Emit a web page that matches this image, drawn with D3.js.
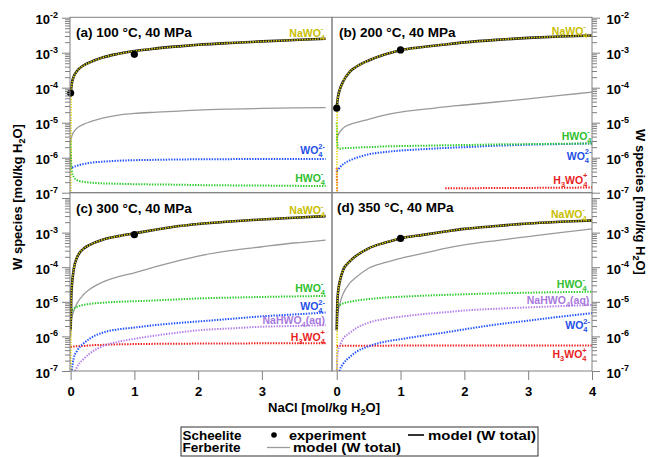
<!DOCTYPE html>
<html><head><meta charset="utf-8">
<script src="https://cdn.jsdelivr.net/npm/d3@7"></script>
<style>
body{margin:0;background:#fff}
text{font-family:"Liberation Sans",Arial,Helvetica,sans-serif;}
</style>
</head><body>
<svg id="chart" width="656" height="457"></svg>
<script>
// ---------------- DATA ----------------
const nacl = [0, 0.01, 0.02, 0.05, 0.1, 0.2, 0.3, 0.5, 0.75, 1, 1.35, 1.7, 2, 2.5, 3, 3.5, 4];

// (a) 100 °C
const totalA = [7e-5, 1.0e-4, 1.35e-4, 2.1e-4, 3.0e-4, 4.3e-4, 5.3e-4, 7.3e-4, 9.3e-4, 1.12e-3, 1.33e-3, 1.52e-3, 1.68e-3, 1.9e-3, 2.1e-3, 2.3e-3, 2.5e-3];
const nawo4A = [1e-8, 9.5e-5, 1.3e-4, 2.05e-4, 2.95e-4, 4.25e-4, 5.25e-4, 7.25e-4, 9.25e-4, 1.115e-3, 1.325e-3, 1.515e-3, 1.675e-3, 1.895e-3, 2.095e-3, 2.295e-3, 2.495e-3];
const ferbA = [3e-6, 3.6e-6, 4.2e-6, 5.5e-6, 7e-6, 9e-6, 1.05e-5, 1.35e-5, 1.65e-5, 1.85e-5, 2.0e-5, 2.15e-5, 2.3e-5, 2.45e-5, 2.55e-5, 2.65e-5, 2.7e-5];
const wo4A = [1.2e-6, 5.2e-7, 5.2e-7, 5.5e-7, 5.9e-7, 6.6e-7, 7.1e-7, 7.7e-7, 8.2e-7, 8.5e-7, 8.7e-7, 8.9e-7, 9e-7, 9.1e-7, 9.2e-7, 9.2e-7, 9.2e-7];
const hwo4A = [3e-6, 6e-7, 4e-7, 2.8e-7, 2.3e-7, 2.05e-7, 1.95e-7, 1.85e-7, 1.8e-7, 1.75e-7, 1.72e-7, 1.69e-7, 1.65e-7, 1.62e-7, 1.6e-7, 1.57e-7, 1.55e-7];
const expXA = [0, 1], expYA = [7e-5, 9e-4];

// (b) 200 °C
const totalB = [2.6e-5, 4e-5, 5.5e-5, 9e-5, 1.5e-4, 2.8e-4, 3.9e-4, 6e-4, 8.9e-4, 1.18e-3, 1.45e-3, 1.72e-3, 1.97e-3, 2.33e-3, 2.65e-3, 2.9e-3, 3.1e-3];
const nawo4B = [1e-8, 3.9e-5, 5.4e-5, 8.9e-5, 1.49e-4, 2.79e-4, 3.89e-4, 5.99e-4, 8.89e-4, 1.178e-3, 1.448e-3, 1.718e-3, 1.968e-3, 2.328e-3, 2.648e-3, 2.898e-3, 3.098e-3];
const ferbB = [3e-6, 3.8e-6, 4.3e-6, 5.5e-6, 7e-6, 8.8e-6, 1.0e-5, 1.25e-5, 1.65e-5, 2.0e-5, 2.4e-5, 2.85e-5, 3.2e-5, 3.9e-5, 4.8e-5, 6e-5, 7.5e-5];
const hwo4B = [1e-5, 2.5e-6, 1.9e-6, 1.8e-6, 1.85e-6, 1.9e-6, 1.95e-6, 2.0e-6, 2.1e-6, 2.15e-6, 2.2e-6, 2.27e-6, 2.3e-6, 2.4e-6, 2.45e-6, 2.5e-6, 2.55e-6];
const wo4B = [4.2e-7, 4.3e-7, 4.5e-7, 5.3e-7, 6.5e-7, 8.3e-7, 9.8e-7, 1.25e-6, 1.45e-6, 1.6e-6, 1.75e-6, 1.9e-6, 2.0e-6, 2.2e-6, 2.35e-6, 2.45e-6, 2.55e-6];
const h3wo4B = [5e-7, 4e-8, null, null, null, null, null, null, null, null, null, 1.33e-7, 1.34e-7, 1.36e-7, 1.37e-7, 1.39e-7, 1.4e-7];
const expXB = [0, 1], expYB = [2.6e-5, 1.2e-3];

// (c) 300 °C
const totalC = [1.5e-6, 1.5e-5, 3e-5, 9e-5, 1.9e-4, 3.4e-4, 4.4e-4, 6.2e-4, 7.9e-4, 9.5e-4, 1.23e-3, 1.55e-3, 1.78e-3, 2.1e-3, 2.4e-3, 2.7e-3, 3.0e-3];
const nawo4C = [1e-8, 1.4e-5, 2.9e-5, 8.9e-5, 1.89e-4, 3.39e-4, 4.39e-4, 6.18e-4, 7.88e-4, 9.48e-4, 1.228e-3, 1.548e-3, 1.778e-3, 2.098e-3, 2.398e-3, 2.698e-3, 2.998e-3];
const ferbC = [1e-6, 2.5e-6, 3.5e-6, 5.5e-6, 9e-6, 1.6e-5, 2.3e-5, 3.7e-5, 5.3e-5, 6.9e-5, 1.05e-4, 1.55e-4, 2.1e-4, 3.0e-4, 3.9e-4, 5.0e-4, 6.1e-4];
const hwo4C = [4e-6, 5e-6, 5.5e-6, 6.3e-6, 7.2e-6, 8.1e-6, 8.7e-6, 9.4e-6, 1.0e-5, 1.04e-5, 1.1e-5, 1.18e-5, 1.25e-5, 1.32e-5, 1.38e-5, 1.43e-5, 1.48e-5];
const wo4C = [3e-8, 7e-8, 1.1e-7, 2.4e-7, 3.8e-7, 6.2e-7, 8.6e-7, 1.28e-6, 1.6e-6, 1.8e-6, 2.15e-6, 2.45e-6, 2.7e-6, 3.2e-6, 3.8e-6, 4.3e-6, 4.9e-6];
const nahwo4C = [1e-8, 2e-8, 4e-8, 8e-8, 1.3e-7, 2.2e-7, 3.2e-7, 5.2e-7, 7e-7, 8.5e-7, 1.07e-6, 1.3e-6, 1.5e-6, 1.7e-6, 1.9e-6, 2.0e-6, 2.1e-6];
const h3wo4C = [4.8e-7, 4.9e-7, 5e-7, 5.1e-7, 5.2e-7, 5.3e-7, 5.5e-7, 5.7e-7, 5.9e-7, 6e-7, 6.1e-7, 6.15e-7, 6.2e-7, 6.25e-7, 6.3e-7, 6.3e-7, 6.3e-7];
const expXC = [1], expYC = [8.7e-4];

// (d) 350 °C
const totalD = [1.5e-6, 1e-5, 1.8e-5, 4e-5, 8.3e-5, 1.45e-4, 2.1e-4, 3.5e-4, 5.1e-4, 6.8e-4, 8.6e-4, 1.07e-3, 1.28e-3, 1.55e-3, 1.83e-3, 2.05e-3, 2.25e-3];
const nawo4D = [1e-8, 9.5e-6, 1.75e-5, 3.95e-5, 8.25e-5, 1.445e-4, 2.095e-4, 3.49e-4, 5.09e-4, 6.79e-4, 8.59e-4, 1.069e-3, 1.279e-3, 1.549e-3, 1.829e-3, 2.049e-3, 2.249e-3];
const ferbD = [1.5e-6, 3.7e-6, 5e-6, 9e-6, 1.7e-5, 3.4e-5, 5e-5, 9.3e-5, 1.35e-4, 1.8e-4, 2.5e-4, 3.5e-4, 4.4e-4, 5.9e-4, 7.7e-4, 1.0e-3, 1.28e-3];
const hwo4D = [5e-6, 6.5e-6, 7.2e-6, 8e-6, 9e-6, 1.0e-5, 1.08e-5, 1.2e-5, 1.32e-5, 1.4e-5, 1.5e-5, 1.58e-5, 1.65e-5, 1.75e-5, 1.83e-5, 1.9e-5, 1.95e-5];
const nahwo4D = [5e-8, 3e-7, 4e-7, 5.5e-7, 8.5e-7, 1.25e-6, 1.7e-6, 2.5e-6, 3.2e-6, 3.7e-6, 4.4e-6, 5e-6, 5.6e-6, 6.3e-6, 6.9e-6, 7.5e-6, 8.1e-6];
const wo4D = [2e-8, 4e-8, 6e-8, 1.07e-7, 1.6e-7, 2.5e-7, 3.5e-7, 5.2e-7, 7e-7, 8.3e-7, 1.05e-6, 1.3e-6, 1.6e-6, 2.2e-6, 2.85e-6, 3.7e-6, 4.7e-6];
const h3wo4D = [5.2e-7, 5.3e-7, 5.3e-7, 5.35e-7, 5.35e-7, 5.4e-7, 5.4e-7, 5.4e-7, 5.4e-7, 5.45e-7, 5.45e-7, 5.45e-7, 5.5e-7, 5.5e-7, 5.5e-7, 5.5e-7, 5.5e-7];
const expXD = [1], expYD = [6.8e-4];

const titles = ["(a) 100 °C, 40 MPa", "(b) 200 °C, 40 MPa", "(c) 300 °C, 40 MPa", "(d) 350 °C, 40 MPa"];
const yMajor = [1e-7, 1e-6, 1e-5, 1e-4, 1e-3, 1e-2];
const xTicksLeft = [0, 1, 2, 3];
const xTicksRight = [0, 1, 2, 3, 4];

// ---------------- STYLE ----------------
const C = {
  nawo4: "#e3d600", nawo4T: "#c8bd00",
  hwo4: "#2ecb2e", hwo4T: "#2fbf2f",
  wo4: "#1f50ff", wo4T: "#1f4fe6",
  nahwo4: "#b47ee8", nahwo4T: "#a878dd",
  h3wo4: "#f01c1c", h3wo4T: "#e81e1e",
  ferb: "#9a9a9a", total: "#1e1e1e", frame: "#808080"
};

const svg = d3.select("#chart");
svg.append("rect").attr("width", 656).attr("height", 457).attr("fill", "#fff");

const LBL = {
  nawo4: [["NaWO", "n"], ["4", "sub"], ["-", "sup"]],
  hwo4: [["HWO", "n"], ["4", "sub"], ["-", "sup"]],
  wo4: [["WO", "n"], ["4", "sub"], ["2-", "sup"]],
  h3wo4: [["H", "n"], ["3", "sub"], ["WO", "n"], ["4", "sub"], ["+", "sup"]],
  nahwo4: [["NaHWO", "n"], ["4", "sub"], ["(aq)", "n2"]]
};

const panels = [
  { x0: 70, x1: 332, fTop: 17.3, yBot: 192.7, yTopDec: 17.7, side: "left", xdom: [-0.01, 4.1], title: titles[0], tx: 76, ty: 36.8,
    total: totalA, nawo4: nawo4A, ferb: ferbA, sp: [["wo4", wo4A], ["hwo4", hwo4A]], ex: expXA, ey: expYA,
    labels: [["nawo4", 325, 36.8], ["wo4", 325, 154], ["hwo4", 325, 181.7]], yLabels: [-2, -3, -4, -5, -6, -7], xt: null },
  { x0: 332, x1: 592, fTop: 17.3, yBot: 192.7, yTopDec: 17.7, side: "right", xdom: [-0.074, 4.0], title: titles[1], tx: 339, ty: 36.8,
    total: totalB, nawo4: nawo4B, ferb: ferbB, sp: [["h3wo4", h3wo4B], ["wo4", wo4B], ["hwo4", hwo4B]], ex: expXB, ey: expYB,
    labels: [["nawo4", 587.5, 34.5], ["hwo4", 591.5, 139.5], ["wo4", 591.5, 159.5], ["h3wo4", 587.5, 183.5]], yLabels: [-2, -3, -4, -5, -6, -7], xt: null },
  { x0: 70, x1: 332, fTop: 192.7, yBot: 371, yTopDec: 198, side: "left", xdom: [-0.01, 4.1], title: titles[2], tx: 76, ty: 213,
    total: totalC, nawo4: nawo4C, ferb: ferbC, sp: [["h3wo4", h3wo4C], ["nahwo4", nahwo4C], ["wo4", wo4C], ["hwo4", hwo4C]], ex: expXC, ey: expYC,
    labels: [["nawo4", 325, 214.3], ["hwo4", 325, 291.7], ["wo4", 325, 310.3], ["nahwo4", 325, 324.3], ["h3wo4", 325, 340.5]], yLabels: [-3, -4, -5, -6, -7], xt: xTicksLeft },
  { x0: 332, x1: 592, fTop: 192.7, yBot: 371, yTopDec: 198, side: "right", xdom: [-0.074, 4.0], title: titles[3], tx: 337, ty: 212,
    total: totalD, nawo4: nawo4D, ferb: ferbD, sp: [["h3wo4", h3wo4D], ["wo4", wo4D], ["nahwo4", nahwo4D], ["hwo4", hwo4D]], ex: expXD, ey: expYD,
    labels: [["nawo4", 586.7, 217.7], ["hwo4", 586.7, 287.7], ["nahwo4", 589.3, 304.3], ["wo4", 590, 329.3], ["h3wo4", 586.7, 358.3]], yLabels: [-3, -4, -5, -6, -7], xt: xTicksRight }
];

const minors = [];
for (let k = -7; k <= -3; k++) for (let m = 2; m <= 9; m++) minors.push(m * Math.pow(10, k));

function speciesLabel(g, key, xEnd, yBase) {
  const t = g.append("text").attr("x", xEnd).attr("y", yBase).attr("text-anchor", "end")
    .attr("font-weight", "bold").attr("font-size", 10.5).attr("fill", C[key + "T"]);
  let prev = null;
  LBL[key].forEach(([s, kind]) => {
    const ts = t.append("tspan").text(s);
    if (kind === "sub") { ts.attr("font-size", 7.5).attr("dy", prev === "sub" ? 0 : 3); }
    else if (kind === "sup") { ts.attr("font-size", 7.5).attr("dx", -4.2).attr("dy", -8.5); }
    else { ts.attr("font-size", 10.5).attr("dy", prev === "sub" ? -3 : 0); }
    prev = kind;
  });
}

panels.forEach((p, i) => {
  const x = d3.scaleLinear().domain(p.xdom).range([p.x0, p.x1]);
  const y = d3.scaleLog().domain([1e-7, 1e-2]).range([p.yBot, p.yTopDec]);
  const g = svg.append("g");
  const cid = "clip" + i;
  svg.append("clipPath").attr("id", cid).append("rect")
    .attr("x", p.x0).attr("y", p.fTop).attr("width", p.x1 - p.x0).attr("height", p.yBot - p.fTop);
  const plot = g.append("g").attr("clip-path", `url(#${cid})`);

  const line = d3.line()
    .defined(d => d[1] != null)
    .x(d => x(d[0])).y(d => y(d[1]))
    .curve(d3.curveMonotoneX);
  const pts = arr => nacl.map((v, j) => [v, arr[j]]);

  // ferberite total
  plot.append("path").attr("d", line(pts(p.ferb))).attr("fill", "none")
    .attr("stroke", C.ferb).attr("stroke-width", 1.3);
  // species dotted
  p.sp.forEach(([key, arr]) => {
    plot.append("path").attr("d", line(pts(arr))).attr("fill", "none")
      .attr("stroke", C[key]).attr("stroke-width", 2).attr("stroke-dasharray", "1.4,1.3");
  });
  // scheelite total (black) + NaWO4- (yellow dotted)
  plot.append("path").attr("d", line(pts(p.total))).attr("fill", "none")
    .attr("stroke", C.total).attr("stroke-width", 2.6);
  plot.append("path").attr("d", line(pts(p.nawo4))).attr("fill", "none")
    .attr("stroke", C.nawo4).attr("stroke-width", 1.6).attr("stroke-dasharray", "1.3,1.3");
  // experiments
  g.selectAll(".ex" + i).data(p.ex.map((v, j) => [v, p.ey[j]])).enter().append("circle")
    .attr("cx", d => x(d[0])).attr("cy", d => y(d[1])).attr("r", 3.6).attr("fill", "#000");

  // frame
  g.append("rect").attr("x", p.x0).attr("y", p.fTop).attr("width", p.x1 - p.x0).attr("height", p.yBot - p.fTop)
    .attr("fill", "none").attr("stroke", C.frame).attr("stroke-width", 1);

  // y axis ticks
  const ax = p.side === "left" ? p.x0 : p.x1;
  const ticksG = g.append("g").attr("transform", `translate(${ax},0)`);
  const mk = p.side === "left" ? d3.axisLeft : d3.axisRight;
  const majorVals = yMajor.filter(v => y(v) >= p.fTop - 0.5);
  ticksG.call(mk(y).tickValues(majorVals).tickSize(8).tickFormat(""));
  ticksG.call(g2 => g2.select(".domain").remove());
  const minG = g.append("g").attr("transform", `translate(${ax},0)`);
  minG.call(mk(y).tickValues(minors).tickSize(5).tickFormat(""));
  minG.select(".domain").remove();
  g.selectAll(".tick line").attr("stroke", C.frame);

  // y tick labels
  p.yLabels.forEach(e => {
    const yy = y(Math.pow(10, e)) + 6.5;
    const t = g.append("text").attr("y", yy).attr("font-weight", "bold").attr("font-size", 13)
      .attr("x", p.side === "left" ? 58 : 606.5).attr("text-anchor", p.side === "left" ? "end" : "start");
    t.append("tspan").text("10");
    t.append("tspan").attr("dy", -6.5).attr("font-size", 9).text("-" + (-e));
  });

  // x axis
  if (p.xt) {
    const xa = g.append("g").attr("transform", `translate(0,${p.yBot})`)
      .call(d3.axisBottom(x).tickValues(p.xt).tickSize(9).tickPadding(6.5).tickFormat(d3.format("d")));
    xa.select(".domain").remove();
    xa.selectAll(".tick line").attr("stroke", C.frame);
    xa.selectAll("text").attr("font-size", 13).attr("font-weight", "bold").attr("fill", "#000")
      .attr("font-family", '"Liberation Sans", Arial, sans-serif');
  }

  // title
  g.append("text").attr("x", p.tx).attr("y", p.ty).attr("font-weight", "bold").attr("font-size", 13.5).text(p.title);
  // species labels
  p.labels.forEach(([k, xe, yb]) => speciesLabel(g, k, xe, yb));
});

// axis titles
function ylab(x, y, rot) {
  const t = svg.append("text").attr("transform", `translate(${x},${y}) rotate(${rot})`)
    .attr("text-anchor", "middle").attr("font-weight", "bold").attr("font-size", 13);
  t.append("tspan").text("W species [mol/kg H");
  t.append("tspan").attr("font-size", 9).attr("dy", 3).text("2");
  t.append("tspan").attr("dy", -3).text("O]");
}
ylab(22, 197, -90);
ylab(636, 202, 90);

const xl = svg.append("text").attr("x", 324).attr("y", 412).attr("text-anchor", "middle")
  .attr("font-weight", "bold").attr("font-size", 13);
xl.append("tspan").text("NaCl [mol/kg H");
xl.append("tspan").attr("font-size", 9).attr("dy", 3).text("2");
xl.append("tspan").attr("dy", -3).text("O]");

// legend
const lg = svg.append("g");
lg.append("rect").attr("x", 181).attr("y", 427).attr("width", 357).attr("height", 29)
  .attr("fill", "none").attr("stroke", "#333").attr("stroke-width", 1);
function ltxt(x, y, s, w) {
  lg.append("text").attr("x", x).attr("y", y).attr("font-size", 12.5).attr("font-weight", "bold")
    .attr("textLength", w).attr("lengthAdjust", "spacingAndGlyphs").text(s);
}
ltxt(182.5, 439.5, "Scheelite", 59);
lg.append("circle").attr("cx", 274).attr("cy", 435).attr("r", 2.8).attr("fill", "#000");
ltxt(289, 439.5, "experiment", 77);
lg.append("line").attr("x1", 408).attr("x2", 424).attr("y1", 435).attr("y2", 435).attr("stroke", C.total).attr("stroke-width", 1.8);
ltxt(428, 439.5, "model (W total)", 108);
ltxt(182.5, 452, "Ferberite", 58);
lg.append("line").attr("x1", 267).attr("x2", 290).attr("y1", 447.5).attr("y2", 447.5).attr("stroke", C.ferb).attr("stroke-width", 1.3);
ltxt(293, 452, "model (W total)", 108);
</script>
</body></html>
